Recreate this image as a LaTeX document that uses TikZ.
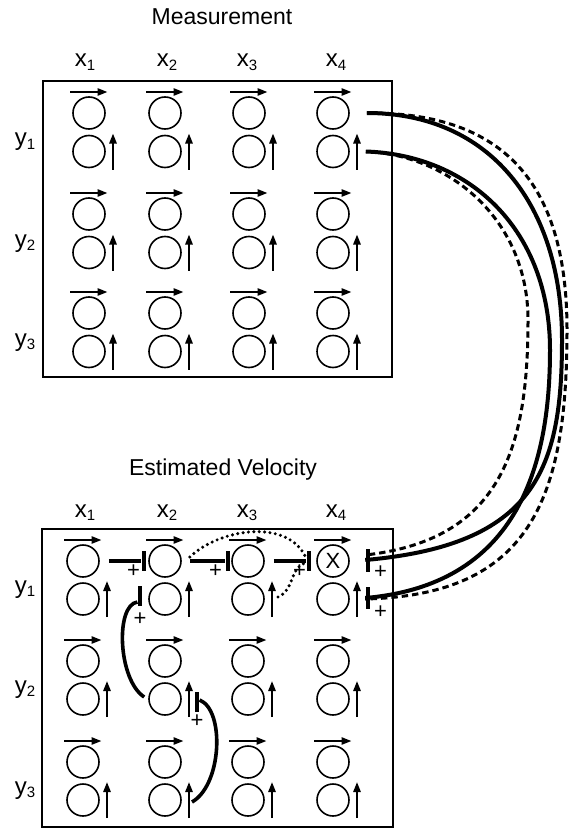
\documentclass[tikz,border=0pt]{standalone}
\usepackage{fontspec}
\setmainfont{Liberation Sans}
\usetikzlibrary{arrows.meta,positioning,calc}
\newcommand{\lab}[2]{#1\raisebox{-1.8pt}{\fontsize{7.5}{8}\selectfont #2}}
\tikzset{
  >={Triangle[length=5pt,width=3.6pt]},
  panel/.style={draw, line width=1.2pt, inner sep=0pt},
  neuron/.style={circle, draw, line width=0.8pt, minimum size=16pt, inner sep=0pt},
  dirarrow/.style={->, line width=1pt},
  inhbar/.style={fill=black, inner sep=0pt, minimum width=2.2pt, minimum height=10pt},
  inhline/.style={line width=1.8pt},
  lateraldot/.style={line width=1.7pt, line cap=round, dash pattern=on 0pt off 2.7pt},
  feedsolid/.style={line width=2pt},
  feeddash/.style={line width=1.5pt, dash pattern=on 3.2pt off 2pt},
  pluslabel/.style={inner sep=0pt, font=\fontsize{11}{12}\selectfont},
  heading/.style={anchor=base, font=\fontsize{11.5}{13}\selectfont},
  axislabel/.style={anchor=base, font=\fontsize{12}{14}\selectfont}
}
\begin{document}
\begin{tikzpicture}[x=0.5pt, y=-0.5pt]
  \useasboundingbox (0,0) rectangle (568,829);

  % measurement layer
  \node[heading] (meastitle) at (222,25) {Measurement};
  \node[panel, minimum width=174.5pt, minimum height=148pt] (meas) at (217.5,229) {};
  \foreach \c/\x in {1/89,2/165,3/249,4/333}
    \foreach \r/\y in {1/113,2/214,3/313} {
      \node[neuron] (m-\c-\r-h) at (\x,\y) {};
      \node[neuron] (m-\c-\r-v) at (\x,\y+38.5) {};
      \draw[dirarrow] ([shift={(-19,-21)}]m-\c-\r-h.center) -- ++(37.5,0);
      \draw[dirarrow] ([shift={(24,18)}]m-\c-\r-v.center) -- ++(0,-36);
    }
  \foreach \c/\x in {1/85,2/167,3/247,4/336}
    \node[axislabel] (mx-\c) at (\x,67) {\lab{x}{\c}};
  \foreach \r/\y in {1/146,2/247,3/346}
    \node[axislabel] (my-\r) at (25,\y) {\lab{y}{\r}};

  % estimated velocity layer
  \node[heading] (esttitle) at (223,475) {Estimated Velocity};
  \node[panel, minimum width=175.5pt, minimum height=149pt] (est) at (217.5,678) {};
  \foreach \c/\x in {1/83,2/165,3/248,4/333}
    \foreach \r/\y in {1/561,2/661,3/762} {
      \node[neuron] (e-\c-\r-h) at (\x,\y) {};
      \node[neuron] (e-\c-\r-v) at (\x,\y+38) {};
      \draw[dirarrow] ([shift={(-19,-21)}]e-\c-\r-h.center) -- ++(37.5,0);
      \draw[dirarrow] ([shift={(24,18)}]e-\c-\r-v.center) -- ++(0,-36);
    }
  \foreach \c/\x in {1/85,2/167,3/247,4/336}
    \node[axislabel] (ex-\c) at (\x,517) {\lab{x}{\c}};
  \foreach \r/\y in {1/593,2/693,3/794}
    \node[axislabel] (ey-\r) at (25,\y) {\lab{y}{\r}};
  \node[font=\fontsize{11}{12}\selectfont, inner sep=0pt] (xmark) at (e-4-1-h) {X};

  % inhibitory bars
  \node[inhbar] (t1) at (144,561) {};
  \node[inhbar] (t2) at (228,561) {};
  \node[inhbar] (t3) at (309,561) {};
  \node[inhbar] (t4) at (140,596) {};
  \node[inhbar] (t5) at (197,702) {};
  \node[inhbar, minimum width=2.4pt, minimum height=11.5pt] (t6) at (368,560) {};
  \node[inhbar, minimum width=2.4pt, minimum height=11pt] (t7) at (368,598) {};

  \node[pluslabel, left=0.5pt of t1.south west] (p1) {+};
  \node[pluslabel, left=1.5pt of t2.south west] (p2) {+};
  \node[pluslabel, left=0pt of t3.south west] (p3) {+};
  \node[pluslabel, below=3pt of t4] (p4) {+};
  \node[pluslabel, below=1pt of t5] (p5) {+};
  \node[pluslabel, right=1.5pt of t6.south east] (p6) {+};
  \node[pluslabel, right=1.5pt of t7.south east, yshift=-1.5pt] (p7) {+};

  % lateral connections
  \draw[inhline] ([xshift=4.5pt]e-1-1-h.east) -- (t1.west);
  \draw[inhline] ([xshift=4pt]e-2-1-h.east) -- (t2.west);
  \draw[inhline] ([xshift=4.5pt]e-3-1-h.east) -- (t3.west);
  \draw[lateraldot] ([xshift=4pt,yshift=2pt]e-2-1-h.east)
    .. controls (220,528) and (290,518) .. ([yshift=1pt]t3.west);
  \draw[lateraldot] ([xshift=15pt,yshift=1pt]e-3-1-v.center)
    .. controls (295,590) and (290,565) .. ([yshift=-1pt]t3.west);
  \draw[inhline] ([xshift=-2pt,yshift=1pt]e-2-2-v.west)
    .. controls (118,680) and (115,605) .. ([yshift=-3pt]t4.west);
  \draw[inhline] ([xshift=13.5pt,yshift=-1pt]e-2-3-v.center)
    .. controls (222,785) and (225,710) .. ([yshift=1pt]t5.east);

  % feed from measurement
  \coordinate (srcA) at ([xshift=8.5pt]m-4-1-h.east);
  \coordinate (srcB) at ([xshift=8pt]m-4-1-v.east);
  \draw[feedsolid] (srcA) .. controls (490,113) and (562,205) .. (562,340)
    .. controls (562,470) and (535,545) .. (t6.west);
  \draw[feeddash] (srcA) .. controls (510,112) and (567,190) .. (567,330)
    .. controls (567,500) and (530,595) .. ([yshift=-0.5pt]t7.west);
  \draw[feedsolid] (srcB) .. controls (470,155) and (550,230) .. (550,350)
    .. controls (550,470) and (515,585) .. (t7.west);
  \draw[feeddash] (srcB) .. controls (450,155) and (528,220) .. (528,320)
    .. controls (528,450) and (500,540) .. ([yshift=2.5pt]t6.west);
\end{tikzpicture}
\end{document}
